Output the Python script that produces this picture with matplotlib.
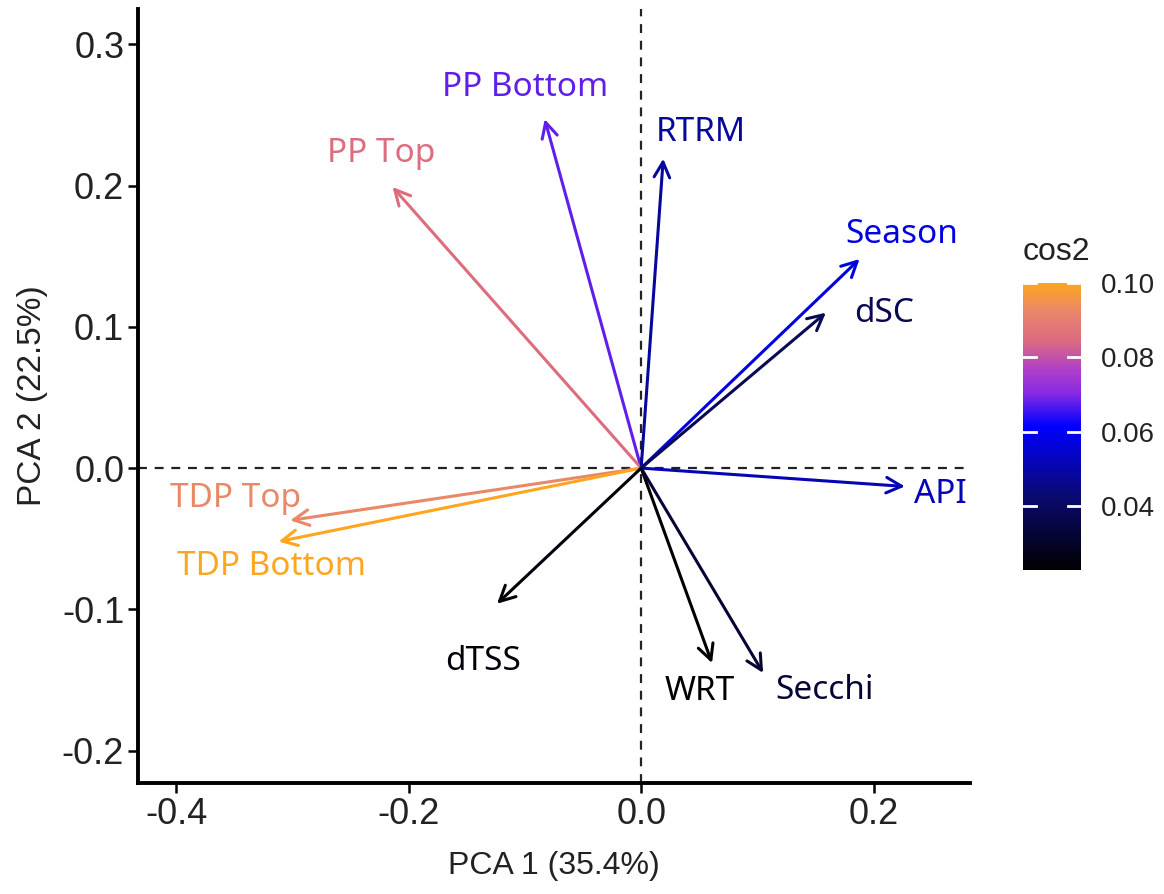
import numpy as np
import matplotlib
matplotlib.use("Agg")
from matplotlib import pyplot as plt
from matplotlib.colors import LinearSegmentedColormap, Normalize

# variable loadings on PCA 1 / PCA 2
variables = ['PP Bottom', 'PP Top', 'RTRM', 'Season', 'dSC', 'API',
             'TDP Top', 'TDP Bottom', 'dTSS', 'WRT', 'Secchi']
pc1 = [-0.083, -0.214, 0.019, 0.188, 0.159, 0.227,
       -0.302, -0.312, -0.124, 0.061, 0.105]
pc2 = [0.247, 0.199, 0.219, 0.148, 0.110, -0.013,
       -0.037, -0.052, -0.096, -0.138, -0.145]
x_ticks = [-0.4, -0.2, 0.0, 0.2]
y_ticks = [-0.2, -0.1, 0.0, 0.1, 0.2, 0.3]
cb_ticks = [0.04, 0.06, 0.08, 0.10]

# label offsets from arrow tip (pixels)
offsets = {'PP Bottom': (-20, 32), 'PP Top': (-11, 33), 'RTRM': (38, 26),
           'Season': (42, 25), 'dSC': (58, -1), 'API': (35, -8),
           'TDP Top': (-55, 22), 'TDP Bottom': (-7, -25), 'dTSS': (-14, -58),
           'WRT': (-12, -28), 'Secchi': (61, -18)}

x = np.array(pc1)
y = np.array(pc2)
cos2 = x**2 + y**2

cmap = LinearSegmentedColormap.from_list('cos2', [
    (0.0, '#000000'), (0.25, '#0a0a6e'), (0.5, '#0000ff'), (0.62, '#8a2be2'),
    (0.70, '#b040c8'), (0.80, '#dc6a80'), (0.90, '#e8866c'), (1.0, '#ffa51e')])
norm = Normalize(cos2.min(), cos2.max())

fig = plt.figure(figsize=(11.64, 8.94), dpi=100)
ax = fig.add_axes([0.1186, 0.124, 0.7147, 0.866])

ax.axhline(0, color='#222222', ls=(0, (4, 3.5)), lw=1.6, zorder=1)
ax.axvline(0, color='#222222', ls=(0, (4, 3.5)), lw=1.6, zorder=1)

for i, name in enumerate(variables):
    c = cmap(norm(cos2[i]))
    ax.annotate('', xy=(x[i], y[i]), xytext=(0, 0),
                arrowprops=dict(arrowstyle='->,head_length=0.55,head_width=0.28',
                                lw=2.2, color=c, shrinkA=0, shrinkB=0,
                                mutation_scale=20), zorder=3)
    ax.annotate(name, xy=(x[i], y[i]), xytext=offsets[name],
                textcoords='offset pixels', ha='center', va='center',
                color=c, fontsize=24, family='Noto Sans', zorder=4)

ax.set_xlim(-0.433, 0.283)
ax.set_ylim(-0.223, 0.325)
ax.set_xticks(x_ticks)
ax.set_xticklabels(['-0.4', '-0.2', '0.0', '0.2'])
ax.set_yticks(y_ticks)
ax.set_yticklabels(['-0.2', '-0.1', '0.0', '0.1', '0.2', '0.3'])
for s in ['top', 'right']:
    ax.spines[s].set_visible(False)
for s in ['left', 'bottom']:
    ax.spines[s].set_linewidth(2.8)
ax.tick_params(length=7, width=1.8, labelsize=26, colors='black',
               labelcolor='#222222', pad=3)
for lab in ax.get_xticklabels() + ax.get_yticklabels():
    lab.set_family('Liberation Sans')
ax.set_xlabel('PCA 1 (35.4%)', fontsize=23, family='Liberation Sans',
              color='#222222', labelpad=14)
ax.set_ylabel('PCA 2 (22.5%)', fontsize=24, family='Liberation Sans',
              color='#222222', labelpad=10)

# colour bar
cax = fig.add_axes([0.8789, 0.3624, 0.0498, 0.321])
sm = plt.cm.ScalarMappable(norm=norm, cmap=cmap)
cb = fig.colorbar(sm, cax=cax, ticks=cb_ticks)
cb.outline.set_visible(False)
cb.ax.set_yticklabels(['0.04', '0.06', '0.08', '0.10'])
cax.tick_params(length=0, labelsize=20, labelcolor='#222222', pad=14)
for t in cb_ticks:
    cax.plot([0, 0.22], [t, t], color='white', lw=2, transform=cax.get_yaxis_transform())
    cax.plot([0.78, 1], [t, t], color='white', lw=2, transform=cax.get_yaxis_transform())
for lab in cax.get_yticklabels():
    lab.set_family('Liberation Sans')
fig.text(0.8789, 0.718, 'cos2', fontsize=23, family='Liberation Sans',
         color='#222222', ha='left', va='center')

fig.savefig('out.png', dpi=100)
